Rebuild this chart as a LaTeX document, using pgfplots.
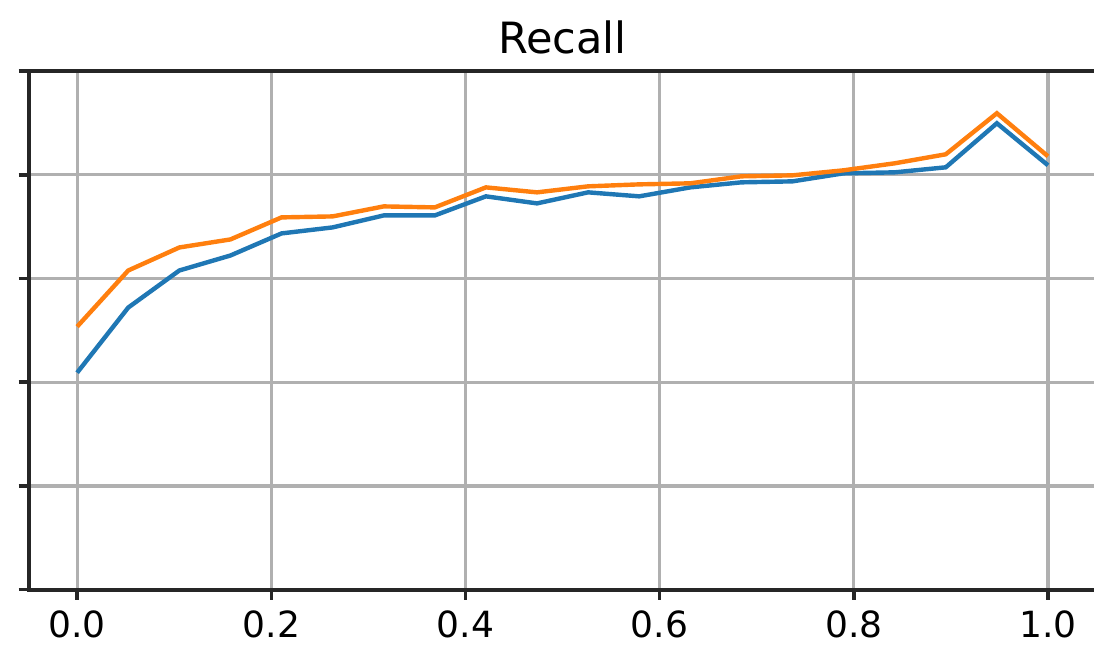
\documentclass[border=0pt]{standalone}
\usepackage{pgfplots}
\pgfplotsset{compat=1.18}
\usepackage{fontspec}
\setmainfont{DejaVu Sans}
\definecolor{mplblue}{HTML}{1F77B4}
\definecolor{mplorange}{HTML}{FF7F0E}
\definecolor{spine}{HTML}{262626}
\definecolor{gridc}{HTML}{B0B0B0}

\pgfplotstableread{
x        blue    orange
0.00000  0.4184  0.5072
0.05263  0.5440  0.6155
0.10526  0.6155  0.6599
0.15789  0.6444  0.6754
0.21053  0.6870  0.7179
0.26316  0.6986  0.7198
0.31579  0.7217  0.7391
0.36842  0.7217  0.7372
0.42105  0.7585  0.7758
0.47368  0.7449  0.7662
0.52632  0.7662  0.7778
0.57895  0.7585  0.7816
0.63158  0.7758  0.7836
0.68421  0.7855  0.7971
0.73684  0.7874  0.7990
0.78947  0.8029  0.8087
0.84211  0.8048  0.8222
0.89474  0.8145  0.8396
0.94737  0.8995  0.9188
1.00000  0.8184  0.8357
}\recall

\begin{document}
\begin{tikzpicture}
\path[use as bounding box] (-14.28pt,-27.75pt) rectangle (531.7pt,294.25pt);
\begin{axis}[
  scale only axis,
  width=532.95pt, height=258.75pt,
  xmin=-0.05, xmax=1.05, ymin=0, ymax=1,
  xtick={0,0.2,...,1.0},
  ytick={0,0.2,...,1.0},
  yticklabels={},
  xticklabel style={font=\fontsize{18}{20}\selectfont, yshift=-2pt},
  /pgf/number format/assume math mode=true,
  /pgf/number format/.cd, fixed, fixed zerofill, precision=1, /pgfplots/.cd,
  tick align=outside,
  major tick length=5pt,
  tick style={line width=1.8pt, color=spine},
  xtick pos=bottom, ytick pos=left,
  axis line style={line width=2pt, color=spine},
  grid=major,
  major grid style={line width=1.6pt, color=gridc},
  title={Recall},
  title style={font=\fontsize{21.5}{24}\selectfont, yshift=-1pt},
]
\addplot[mplblue, line width=2.2pt] table[x=x, y=blue] {\recall};
\addplot[mplorange, line width=2.2pt] table[x=x, y=orange] {\recall};
\end{axis}
\end{tikzpicture}
\end{document}
